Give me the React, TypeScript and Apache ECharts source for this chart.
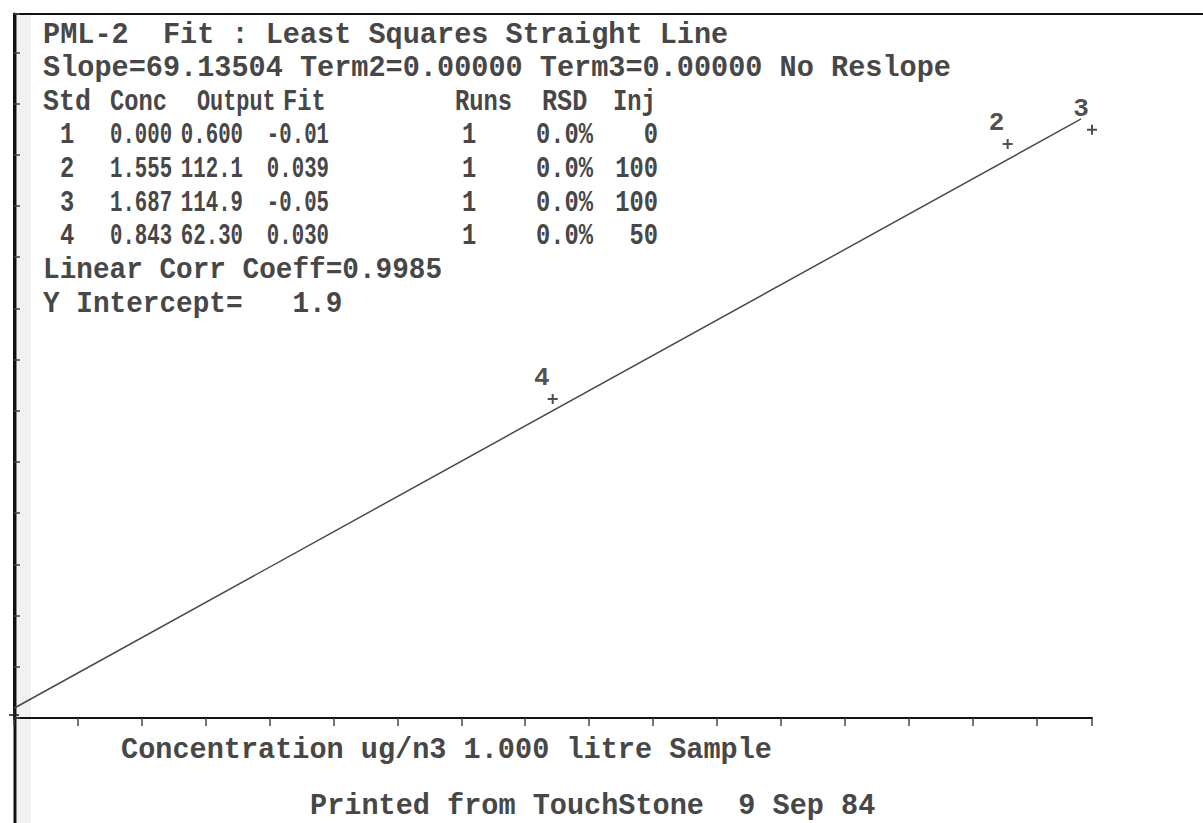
import React, { useEffect, useRef } from "react";
import * as echarts from "echarts";

// ---- data ----
const stdIds = ["1", "2", "3", "4"];
const concValues = [0.0, 1.555, 1.687, 0.843];
const outputValues = [0.6, 112.1, 114.9, 62.3];
const concText = ["0.000", "1.555", "1.687", "0.843"];
const outputText = ["0.600", "112.1", "114.9", "62.30"];
const fitText = ["-0.01", "0.039", "-0.05", "0.030"];
const runsText = ["1", "1", "1", "1"];
const rsdText = ["0.0%", "0.0%", "0.0%", "0.0%"];
const injText = ["0", "100", "100", "50"];
const fitLineX = [0, 1.67];
const fitLineY = [1.9, 117.0];
const headerCols = ["Std", "Conc", "Output", "Fit", "Runs", "RSD", "Inj"];
const titleText = "PML-2  Fit : Least Squares Straight Line";
const slopeText = "Slope=69.13504 Term2=0.00000 Term3=0.00000 No Reslope";
const corrText = "Linear Corr Coeff=0.9985";
const interceptText = "Y Intercept=   1.9";
const xAxisName = "Concentration ug/n3 1.000 litre Sample";
const footerText = "Printed from TouchStone  9 Sep 84";
const xMax = 1.687;
const xTickStep = 0.1;
const yMax = 137.5;
const yTickStep = 10;

const FONT = '"Liberation Mono", "DejaVu Sans Mono", monospace';
const INK = "#474747";

function txt(text: string, x: number, y: number, opts: any = {}) {
  return {
    type: "text",
    x,
    y,
    scaleX: opts.scaleX ?? 1.02,
    scaleY: opts.scaleY ?? 1.05,
    silent: true,
    style: {
      text,
      fontSize: opts.fontSize ?? 28,
      fontFamily: FONT,
      fontWeight: "bold",
      fill: opts.fill ?? INK,
      align: opts.align ?? "left",
      verticalAlign: "middle",
    },
  };
}

export default function App() {
  const ref = useRef<HTMLDivElement>(null);

  useEffect(() => {
    document.body.style.margin = "0";
    const chart = echarts.init(ref.current!, undefined, { renderer: "svg" });

    const rowY = (i: number) => 35 + 33.6 * i;
    const graphics: any[] = [];
    // borders
    graphics.push({ type: "rect", shape: { x: 17, y: 15, width: 14, height: 808 }, style: { fill: "#f1f1f1" }, silent: true, z: -1 });
    graphics.push({ type: "line", shape: { x1: 13, y1: 14, x2: 1203, y2: 14 }, style: { stroke: "#111", lineWidth: 2 }, silent: true });
    graphics.push({ type: "line", shape: { x1: 15, y1: 13, x2: 15, y2: 823 }, style: { stroke: "#111", lineWidth: 3 }, silent: true });

    graphics.push(txt(titleText, 43, rowY(0)));
    graphics.push(txt(slopeText, 43, rowY(1)));
    const headerX = [43, 110, 197, 283, 455, 542, 613];
    const headerScale = [0.95, 0.85, 0.78, 0.85, 0.85, 0.9, 0.85];
    headerCols.forEach((h, i) => graphics.push(txt(h, headerX[i], rowY(2), { scaleX: headerScale[i] })));
    stdIds.forEach((id, r) => {
      const y = rowY(3 + r);
      graphics.push(txt(id, 60, y, { scaleX: 0.85 }));
      graphics.push(txt(concText[r], 110, y, { scaleX: 0.74 }));
      graphics.push(txt(outputText[r], 243, y, { scaleX: 0.74, align: "right" }));
      graphics.push(txt(fitText[r], 329, y, { scaleX: 0.74, align: "right" }));
      graphics.push(txt(runsText[r], 462, y, { scaleX: 0.85 }));
      graphics.push(txt(rsdText[r], 593, y, { scaleX: 0.85, align: "right" }));
      graphics.push(txt(injText[r], 658, y, { scaleX: 0.85, align: "right" }));
    });
    graphics.push(txt(corrText, 43, rowY(7), { scaleX: 0.99 }));
    graphics.push(txt(interceptText, 43, rowY(8), { scaleX: 0.99 }));
    graphics.push(txt(xAxisName, 121, 750, { scaleX: 1.02 }));
    graphics.push(txt(footerText, 310, 806, { scaleX: 1.02 }));

    const points = concValues.map((c, i) => ({
      value: [c, outputValues[i]],
      name: stdIds[i],
      label: { show: i !== 0 },
    }));

    chart.setOption({
      animation: false,
      backgroundColor: "#ffffff",
      grid: { left: 14, top: 14, right: 1203 - 14 - 1078, bottom: 823 - 718, containLabel: false },
      xAxis: {
        type: "value",
        min: 0,
        max: xMax,
        interval: xTickStep,
        axisLine: { show: true, onZero: false, lineStyle: { color: "#111", width: 2 } },
        axisTick: { show: true, inside: false, length: 8, lineStyle: { color: "#444", width: 1.5 } },
        axisLabel: { show: false },
        splitLine: { show: false },
      },
      yAxis: {
        type: "value",
        min: 0,
        max: yMax,
        interval: yTickStep,
        axisLine: { show: true, onZero: false, lineStyle: { color: "#111", width: 3 } },
        axisTick: { show: true, inside: true, length: 6, lineStyle: { color: "#444", width: 1.5 } },
        axisLabel: { show: false },
        splitLine: { show: false },
      },
      series: [
        {
          type: "line",
          data: fitLineX.map((x, i) => [x, fitLineY[i]]),
          showSymbol: false,
          symbol: "none",
          lineStyle: { color: "#4a4a4a", width: 1.5 },
          z: 2,
        },
        {
          type: "scatter",
          data: points,
          symbol: "path://M4,0H6V4H10V6H6V10H4V6H0V4H4Z",
          symbolSize: 10,
          itemStyle: { color: "#222" },
          clip: false,
          label: {
            show: true,
            position: "top",
            distance: 5,
            offset: [-11, 2],
            formatter: (p: any) => p.name,
            fontSize: 26,
            fontFamily: FONT,
            fontWeight: "bold",
            color: "#222",
          },
          z: 3,
        },
      ],
      graphic: graphics,
    });

    return () => chart.dispose();
  }, []);

  return <div ref={ref} style={{ width: 1203, height: 823 }} />;
}
